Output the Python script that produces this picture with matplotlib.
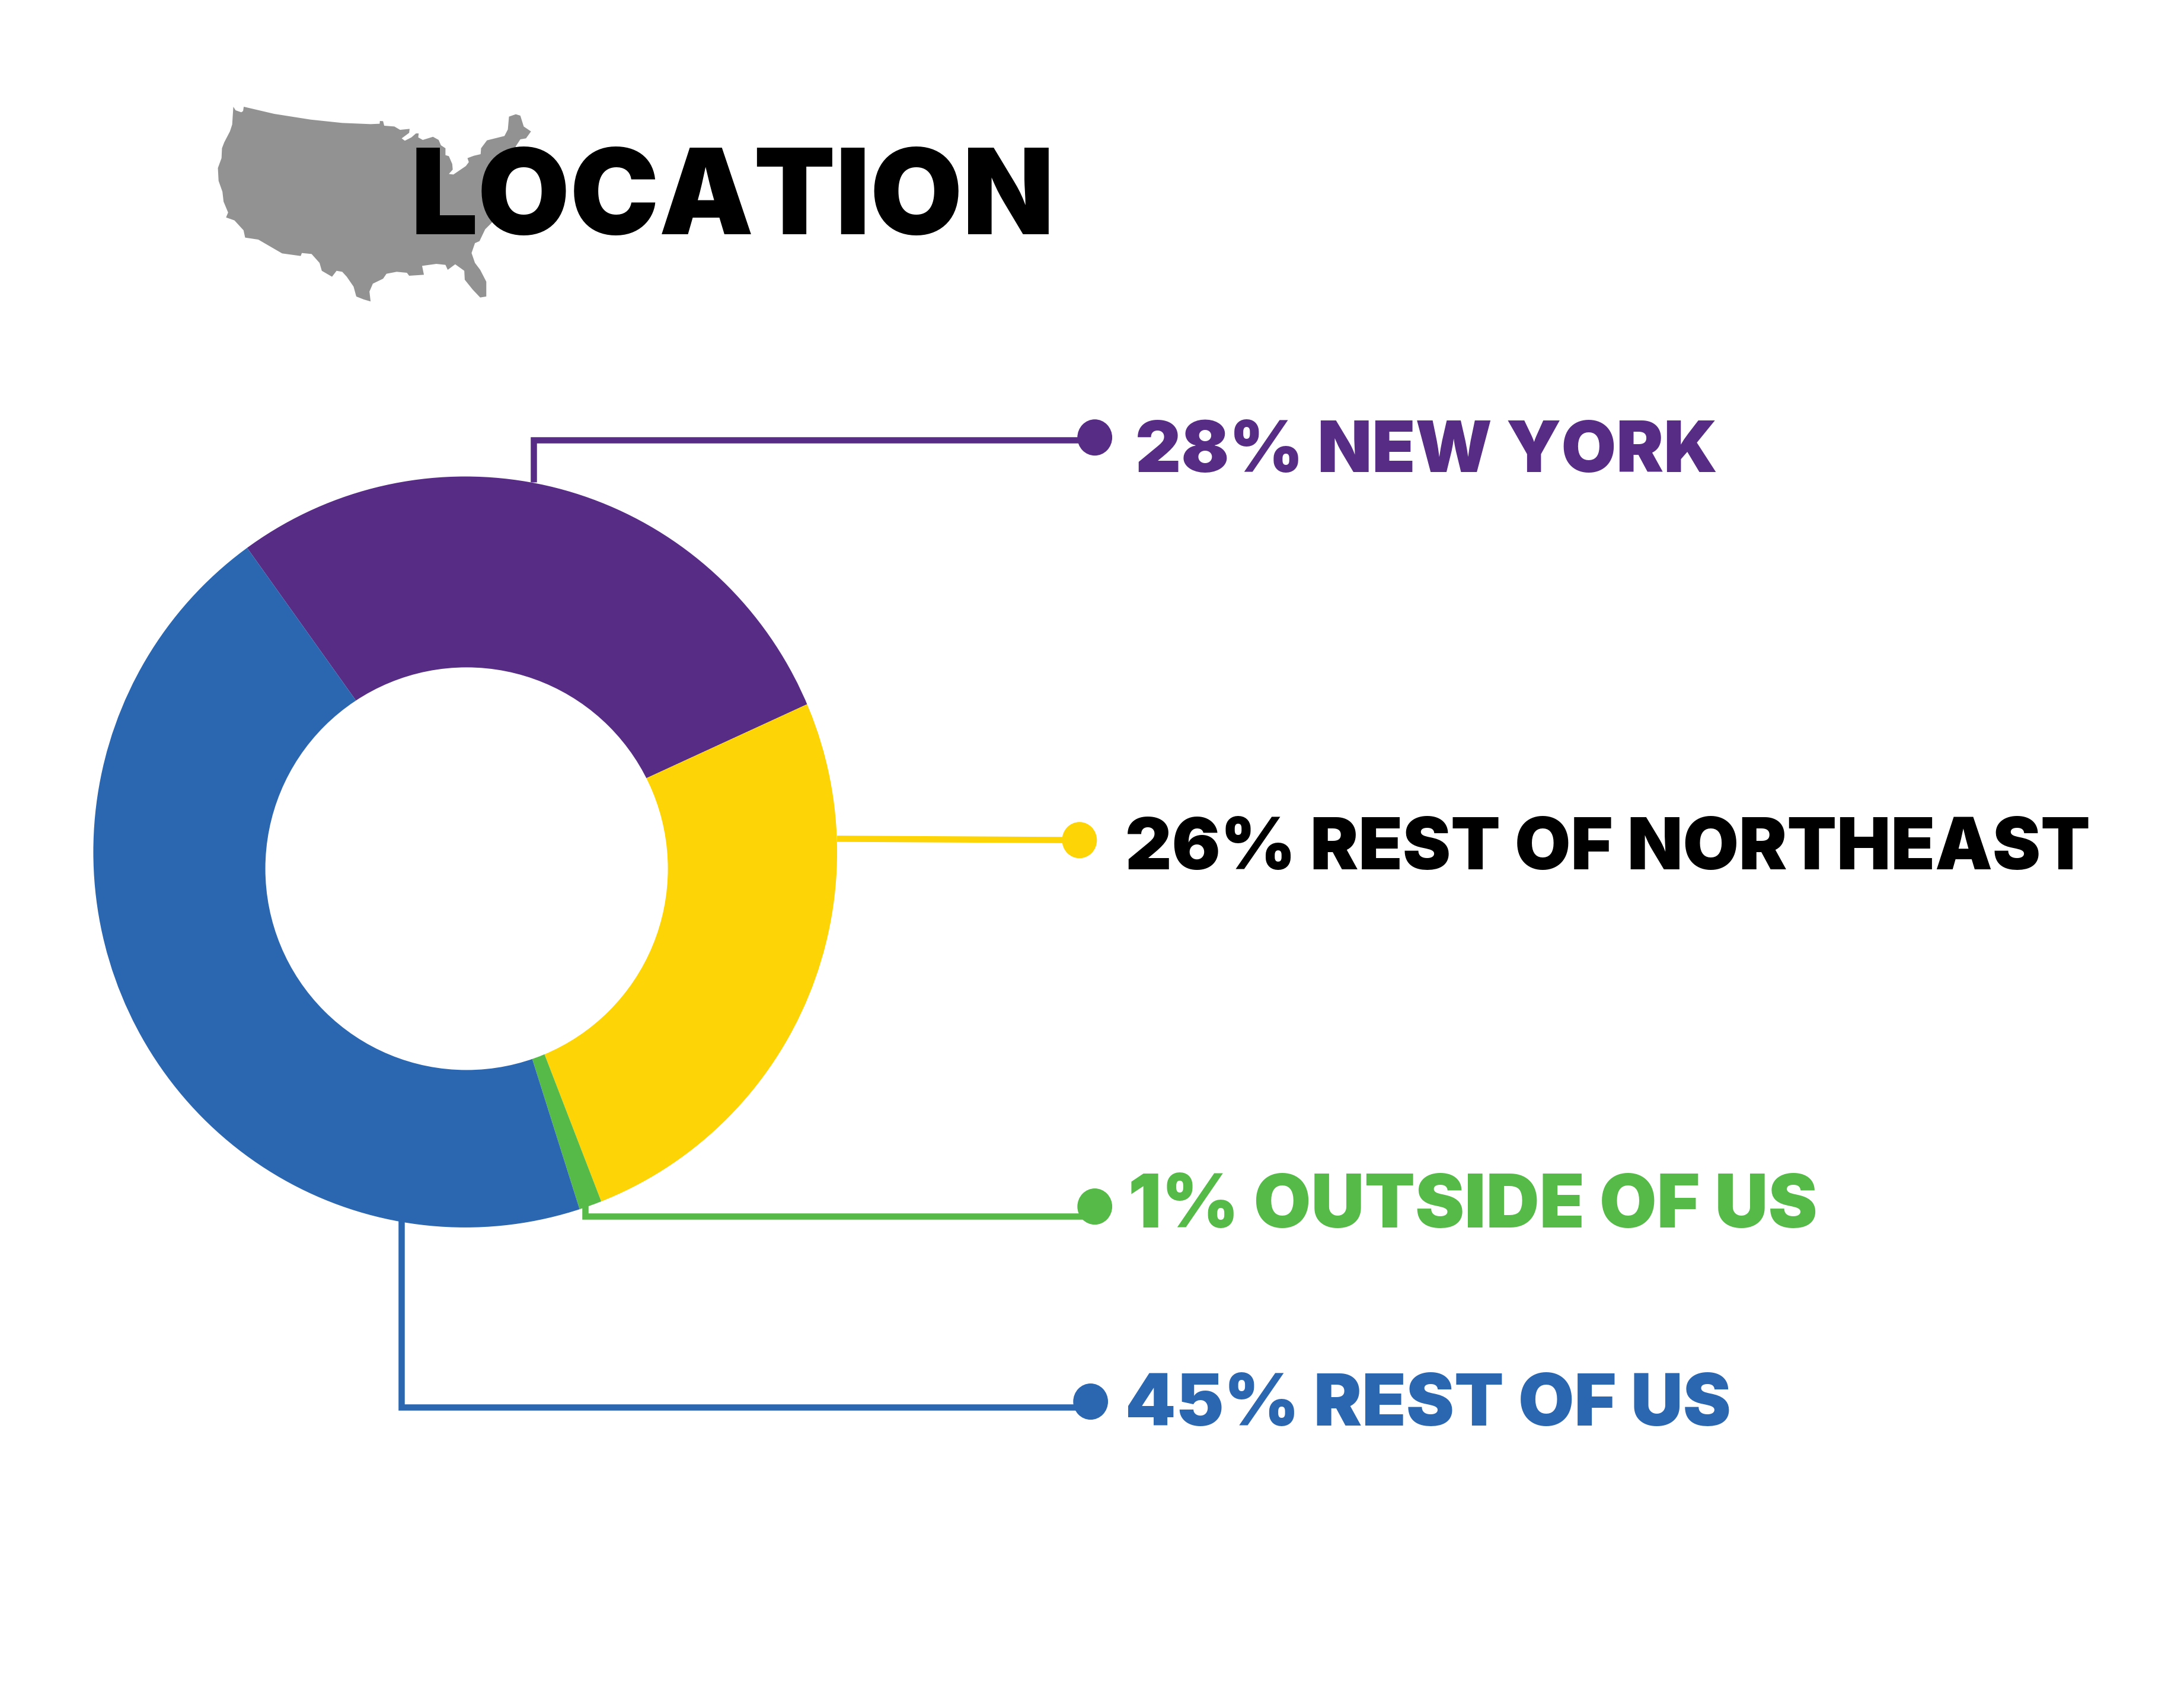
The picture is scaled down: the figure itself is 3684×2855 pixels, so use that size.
import matplotlib
matplotlib.use("Agg")
import matplotlib.pyplot as plt
from matplotlib.patches import Circle, Ellipse, Polygon

W, H = 3684, 2855
S = 3684 / 1568  # positions below were read on the 1568 wide picture

categories = ["NEW YORK", "REST OF NORTHEAST", "OUTSIDE OF US", "REST OF US"]
shares = [28, 26, 1, 45]
colors = ["#562C85", "#FDD406", "#55BA47", "#2B66B1"]
text_colors = ["#562C85", "#000000", "#55BA47", "#2B66B1"]

map_outline = [(140,90),(150,108),(175,118),(183,112),(186,90),(320,126),(480,155),(620,172),(745,178),(785,176),
    (786,162),(800,163),(805,186),(850,190),(875,207),(917,202),(915,222),(882,250),(896,262),(925,245),(945,225),
    (957,225),(955,245),(975,258),(1020,242),(1045,258),(1055,285),(1075,300),(1075,335),(1090,340),(1105,380),
    (1107,408),(1090,430),(1110,433),(1165,390),(1178,370),(1172,350),(1200,338),(1230,330),(1232,300),(1258,260),
    (1335,238),(1350,205),(1355,140),(1385,128),(1405,135),(1420,190),(1452,215),(1430,250),(1405,255),(1385,290),
    (1380,310),(1345,340),(1300,450),(1290,600),(1285,670),(1250,710),(1225,770),(1205,780),(1190,830),(1205,880),
    (1228,915),(1255,975),(1255,1050),(1228,1055),(1195,1015),(1160,965),(1158,920),(1118,887),(1085,915),(1075,890),
    (1035,885),(972,895),(980,940),(915,945),(905,930),(860,925),(815,935),(800,960),(755,985),(740,1025),(745,1075),
    (715,1065),(682,1050),(670,1000),(640,950),(620,925),(595,920),(575,950),(530,920),(520,880),(485,835),(442,830),
    (437,845),(355,832),(250,762),(192,752),(185,715),(165,690),(145,665),(108,650),(117,625),(97,570),(92,520),
    (75,465),(72,400),(88,350),(90,300),(100,270),(125,215),(135,180)]

def px(x, y):
    return x * S, H - y * S

fig = plt.figure(figsize=(W / 100, H / 100), dpi=100)
ax = fig.add_axes([0, 0, 1, 1])

# map
pts = [(340 + x / 2.613, H - (150 + y / 3)) for x, y in map_outline]
ax.add_patch(Polygon(pts, closed=True, facecolor="#929292", edgecolor="none"))

# donut: wedges come from one point, outer edge and hole are not concentric with it
wedges, _ = ax.pie(shares, colors=colors, startangle=125.5, counterclock=False,
                   center=px(337, 617), radius=320 * S)
clip = Ellipse(px(334, 611.5), 534 * S, 539 * S, transform=ax.transData)
for w in wedges:
    w.set_clip_on(True)
    w.set_clip_path(clip)
ax.add_patch(Circle(px(335, 623.5), 144.5 * S, facecolor="white", edgecolor="none", zorder=5))

# leader lines and dots
lw = 10.5 * 0.72
def leader(points, color):
    xs, ys = zip(*[px(a, b) for a, b in points])
    ax.plot(xs, ys, color=color, lw=lw, solid_joinstyle="miter", solid_capstyle="butt", zorder=3)

leader([(383, 346), (383, 316), (786, 316)], colors[0])
leader([(601, 602), (775, 603)], colors[1])
leader([(420, 864), (420, 873), (786, 873)], colors[2])
leader([(288, 876), (288, 1010), (783, 1010)], colors[3])

dots = [(786, 314), (775, 603), (786, 866), (783, 1006)]
for (dx, dy), c in zip(dots, colors):
    ax.add_patch(Ellipse(px(dx, dy), 25 * S, 26 * S, facecolor=c, edgecolor="none", zorder=4))

# text
font = dict(family=["Inter", "DejaVu Sans"], weight=900)
tx, ty = px(295, 168)
ax.text(tx, ty, "LOCATION", color="black", fontsize=144.7, ha="left", va="baseline", zorder=6, **font)

label_pos = [(815, 339), (808, 624), (810, 881), (808, 1023)]
label_sizes = [86.1, 87.7, 89.8, 87.7]
for (lx, ly), cat, val, c, fs in zip(label_pos, categories, shares, text_colors, label_sizes):
    ax.text(*px(lx, ly), f"{val}% {cat}", color=c, fontsize=fs, ha="left", va="baseline", zorder=6, **font)

ax.set_xlim(0, W)
ax.set_ylim(0, H)
ax.set_aspect("equal")
ax.axis("off")

fig.savefig("out.png", dpi=100, facecolor="white")
